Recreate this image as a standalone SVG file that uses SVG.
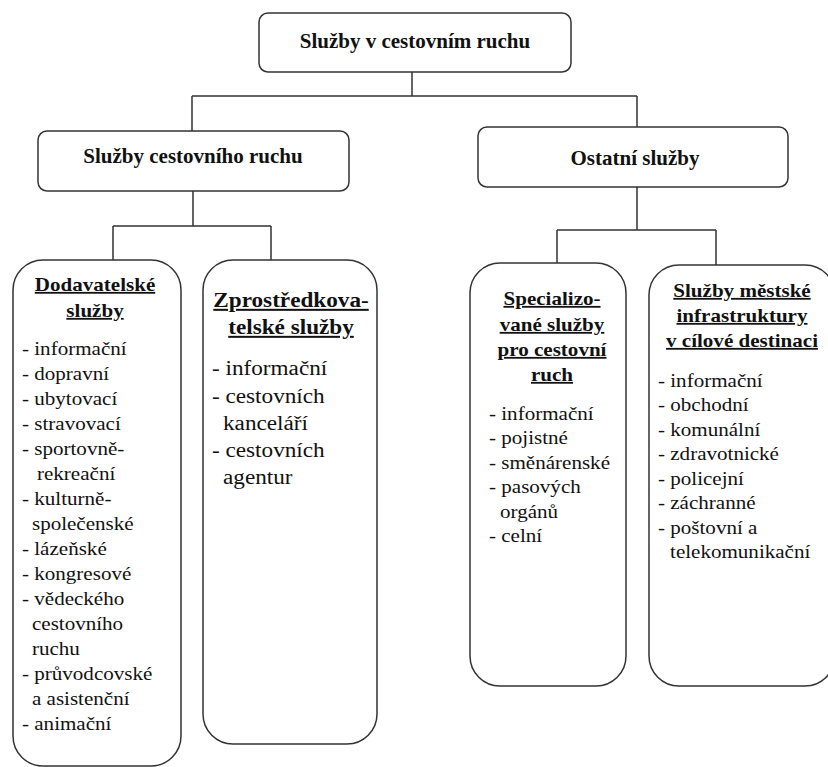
<svg xmlns="http://www.w3.org/2000/svg" width="828" height="767" viewBox="0 0 828 767">
<style>
.box{fill:#fff;stroke:#333;stroke-width:1.5}
.con{fill:none;stroke:#333;stroke-width:1.5}
text{font-family:'Liberation Serif','Times New Roman','DejaVu Serif',serif;fill:#111}
.t1{font-weight:bold;font-size:21px;text-anchor:middle}
.h{font-weight:bold;font-size:18px;text-anchor:middle;text-decoration:underline}
.h2{font-weight:bold;font-size:20px;text-anchor:middle;text-decoration:underline}
.li{font-size:18px}
.li2{font-size:20px}
</style>
<rect width="828" height="767" fill="#fff"/>
<g id="connectors">
<path class="con" d="M412,72V96M192,96H637M192,96V131M637,96V127"/>
<path class="con" d="M193,191V226M113,226H271M113,226V260M271,226V260"/>
<path class="con" d="M637,187V230M557,230H716M557,230V263M716,230V265"/>
</g>
<g id="root">
<rect class="box" x="259" y="13" width="312" height="59" rx="9"/>
<text class="t1" x="415" y="48" font-family="Liberation Serif, serif">Služby v cestovním ruchu</text>
</g>
<g id="sluzby-cr">
<rect class="box" x="38" y="131" width="311" height="60" rx="9"/>
<text class="t1" x="193" y="163">Služby cestovního ruchu</text>
</g>
<g id="ostatni">
<rect class="box" x="478" y="127" width="310" height="60" rx="9"/>
<text class="t1" x="635" y="165">Ostatní služby</text>
</g>
<g id="dodavatelske">
<rect class="box" x="13" y="260" width="168" height="506" rx="30"/>
<g transform="translate(95,0) scale(1.17,1)">
<text class="h" x="0" y="291">Dodavatelské</text>
<text class="h" x="0" y="317">služby</text>
</g>
<g transform="translate(22,0) scale(1.17,1)">
<text class="li" x="0" y="355">- informační</text>
<text class="li" x="0" y="380">- dopravní</text>
<text class="li" x="0" y="405">- ubytovací</text>
<text class="li" x="0" y="430">- stravovací</text>
<text class="li" x="0" y="455">- sportovně-</text>
<text class="li" x="12.8" y="480">rekreační</text>
<text class="li" x="0" y="505">- kulturně-</text>
<text class="li" x="8.5" y="530">společenské</text>
<text class="li" x="0" y="555">- lázeňské</text>
<text class="li" x="0" y="580">- kongresové</text>
<text class="li" x="0" y="605">- vědeckého</text>
<text class="li" x="8.5" y="630">cestovního</text>
<text class="li" x="8.5" y="655">ruchu</text>
<text class="li" x="0" y="680">- průvodcovské</text>
<text class="li" x="8.5" y="705">a asistenční</text>
<text class="li" x="0" y="730">- animační</text>
</g>
</g>
<g id="zprostredkovatelske">
<rect class="box" x="203" y="260" width="174" height="484" rx="30"/>
<g transform="translate(291,0) scale(1.16,1)">
<text class="h2" x="0" y="307">Zprostředkova-</text>
<text class="h2" x="0" y="334">telské služby</text>
</g>
<g transform="translate(212,0) scale(1.16,1)">
<text class="li2" x="0" y="375">- informační</text>
<text class="li2" x="0" y="403">- cestovních</text>
<text class="li2" x="9.5" y="430">kanceláří</text>
<text class="li2" x="0" y="457">- cestovních</text>
<text class="li2" x="9.5" y="484">agentur</text>
</g>
</g>
<g id="specializovane">
<rect class="box" x="470" y="263" width="156" height="423" rx="30"/>
<g transform="translate(552,0) scale(1.17,1)">
<text class="h" x="0" y="305">Specializo-</text>
<text class="h" x="0" y="331">vané služby</text>
<text class="h" x="0" y="356">pro cestovní</text>
<text class="h" x="0" y="381">ruch</text>
</g>
<g transform="translate(489,0) scale(1.17,1)">
<text class="li" x="0" y="420">- informační</text>
<text class="li" x="0" y="444.5">- pojistné</text>
<text class="li" x="0" y="469">- směnárenské</text>
<text class="li" x="0" y="493.5">- pasových</text>
<text class="li" x="9.4" y="518">orgánů</text>
<text class="li" x="0" y="542.5">- celní</text>
</g>
</g>
<g id="mestska-infrastruktura">
<rect class="box" x="649" y="265" width="186" height="421" rx="30"/>
<g transform="translate(742,0) scale(1.17,1)">
<text class="h" x="0" y="297">Služby městské</text>
<text class="h" x="0" y="322">infrastruktury</text>
<text class="h" x="0" y="347">v cílové destinaci</text>
</g>
<g transform="translate(658,0) scale(1.17,1)">
<text class="li" x="0" y="387">- informační</text>
<text class="li" x="0" y="411.5">- obchodní</text>
<text class="li" x="0" y="436">- komunální</text>
<text class="li" x="0" y="460.5">- zdravotnické</text>
<text class="li" x="0" y="485">- policejní</text>
<text class="li" x="0" y="509.5">- záchranné</text>
<text class="li" x="0" y="534">- poštovní a</text>
<text class="li" x="10.3" y="558.5">telekomunikační</text>
</g>
</g>
</svg>
